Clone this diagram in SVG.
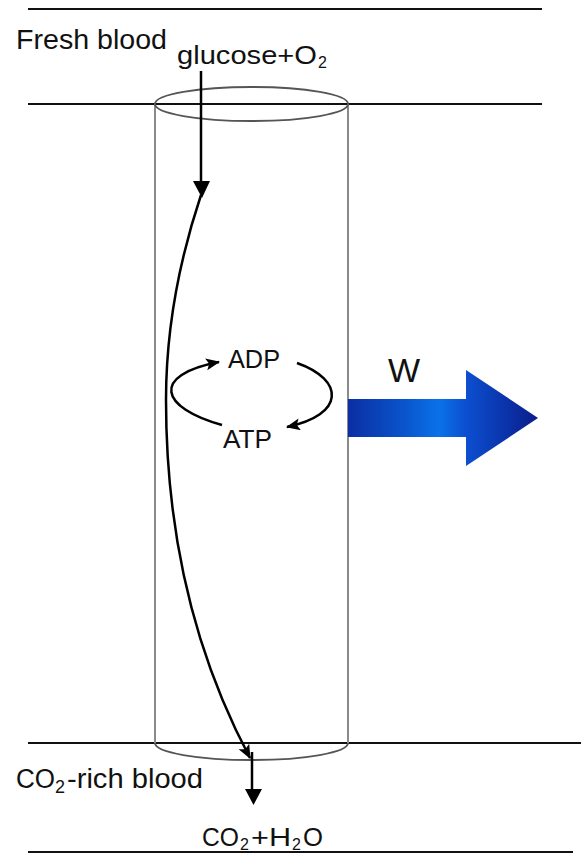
<svg xmlns="http://www.w3.org/2000/svg" width="581" height="854" viewBox="0 0 581 854">
<style>
.t{font-family:"Liberation Sans",Arial,sans-serif;fill:#111}
.hl{stroke:#111;stroke-width:2;fill:none}
.cyl{stroke:#8a8a8a;stroke-width:2;fill:none}
.ell{stroke:#555;stroke-width:1.8;fill:none}
.ar{stroke:#000;stroke-width:2.5;fill:none}
</style>
<defs>
<marker id="ah" markerUnits="userSpaceOnUse" markerWidth="16" markerHeight="14" refX="13" refY="6" orient="auto">
<path d="M0,0 L14,6 L0,12 L3,6 z" fill="#000"/>
</marker>
<linearGradient id="wg" gradientUnits="userSpaceOnUse" x1="348" y1="0" x2="538" y2="0">
<stop offset="0" stop-color="#0b2ea3"/>
<stop offset="0.3" stop-color="#0a55cc"/>
<stop offset="0.48" stop-color="#0a72e8"/>
<stop offset="0.62" stop-color="#0c4fd0"/>
<stop offset="1" stop-color="#0a1d8a"/>
</linearGradient>
</defs>
<g id="boundaries">
<line class="hl" x1="28" y1="9" x2="542" y2="9"/>
<line class="hl" x1="28" y1="104" x2="542" y2="104"/>
<line class="hl" x1="28" y1="743" x2="581" y2="743"/>
</g>
<g id="cylinder">
<line class="cyl" x1="155" y1="104" x2="155" y2="743"/>
<line class="cyl" x1="348" y1="104" x2="348" y2="743"/>
<ellipse class="ell" cx="251.5" cy="104" rx="96.5" ry="17"/>
<path class="ell" d="M155,743 A96.5,17 0 0 0 348,743"/>
</g>
<g id="labels">
<text id="fresh-blood" class="t" x="16" y="49" font-size="27" textLength="151" lengthAdjust="spacingAndGlyphs">Fresh blood</text>
<g id="glucose">
<text class="t" x="177" y="64" font-size="25" textLength="140" lengthAdjust="spacingAndGlyphs">glucose+O</text>
<text class="t" x="318" y="68" font-size="16">2</text>
</g>
<g id="co2-rich">
<text class="t" x="16" y="788" font-size="27" textLength="39" lengthAdjust="spacingAndGlyphs">CO</text>
<text class="t" x="55" y="793" font-size="18">2</text>
<text class="t" x="67" y="788" font-size="27" textLength="136" lengthAdjust="spacingAndGlyphs">-rich blood</text>
</g>
<g id="products">
<text class="t" x="202" y="846" font-size="26" textLength="37" lengthAdjust="spacingAndGlyphs">CO</text>
<text class="t" x="240" y="850" font-size="16">2</text>
<text class="t" x="251" y="846" font-size="26" textLength="40" lengthAdjust="spacingAndGlyphs">+H</text>
<text class="t" x="292" y="850" font-size="16">2</text>
<text class="t" x="303" y="846" font-size="26" textLength="20" lengthAdjust="spacingAndGlyphs">O</text>
</g>
</g>
<line class="hl" x1="28" y1="852" x2="573" y2="852"/>
<g id="ADP"><text class="t" x="228" y="368" font-size="26" textLength="52" lengthAdjust="spacingAndGlyphs">ADP</text></g>
<g id="ATP"><text class="t" x="223" y="448" font-size="26" textLength="49" lengthAdjust="spacingAndGlyphs">ATP</text></g>
<g id="W">
<polygon points="348,399 466,399 466,370 538,418 466,466 466,437 348,437" fill="url(#wg)"/>
<text class="t" x="388" y="382" font-size="34">W</text>
</g>
<g id="connectors">
<line class="ar" x1="201" y1="71" x2="201" y2="183"/>
<polygon points="193,181 210,181 202,198" fill="#000"/>
<path class="ar" d="M201,195 Q166,300 166,400 Q166,600 250,758" marker-end="url(#ah)"/>
<line class="ar" x1="252" y1="752" x2="252" y2="792"/>
<polygon points="245,789 262,789 253.5,805" fill="#000"/>
<path class="ar" d="M222,425 C160,408 150,375 219,362" marker-end="url(#ah)"/>
<path class="ar" d="M297,363 C345,380 345,415 287,427" marker-end="url(#ah)"/>
</g>
</svg>
